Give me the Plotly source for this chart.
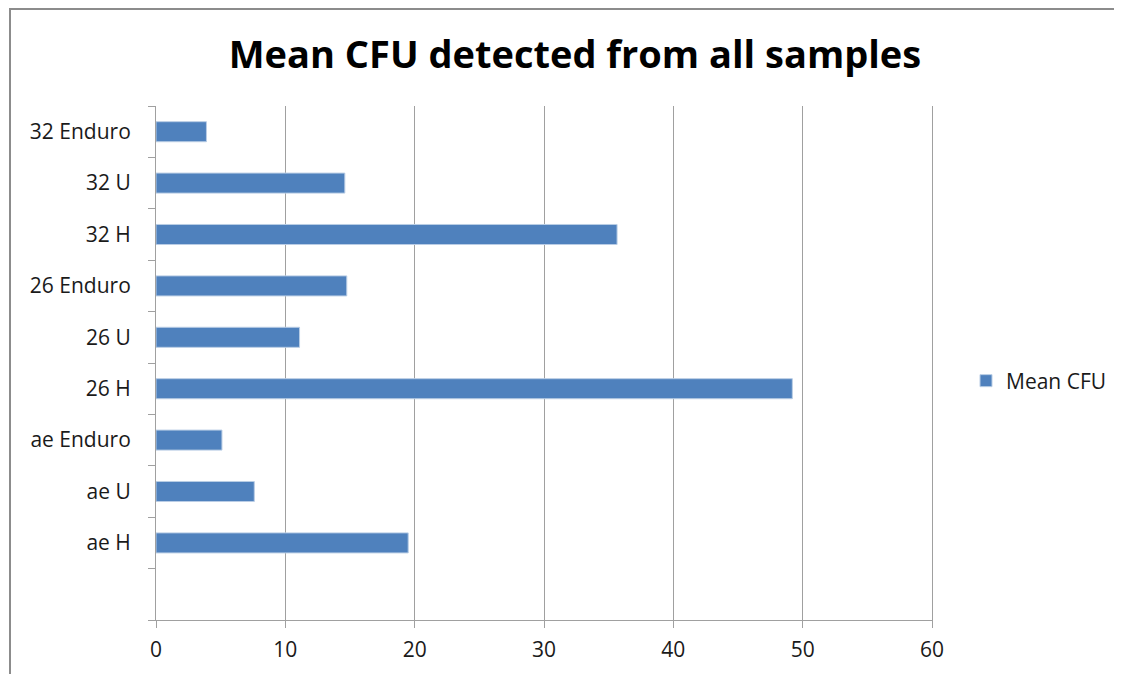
import plotly.graph_objects as go

# Data (bottom to top, as drawn; first slot is an empty category)
categories = ["", "ae H", "ae U", "ae Enduro", "26 H", "26 U", "26 Enduro", "32 H", "32 U", "32 Enduro"]
mean_cfu = [None, 19.5, 7.6, 5.1, 49.2, 11.1, 14.75, 35.65, 14.6, 3.9]
x_ticks = [0, 10, 20, 30, 40, 50, 60]

positions = list(range(len(categories)))
bar_y = [p for p, v in zip(positions, mean_cfu) if v is not None]
bar_x = [v for v in mean_cfu if v is not None]
bar_labels = [c for c, v in zip(categories, mean_cfu) if v is not None]

fig = go.Figure()
fig.add_trace(go.Bar(
    x=bar_x, y=bar_y, orientation="h", name="Mean CFU",
    marker=dict(color="#4F81BD", line=dict(color="#B9CDE5", width=1)),
    width=0.39,
))

GRID = "#A0A0A0"
FONT = "Open Sans"
TXT = "#1a1a1a"

# page body has an 8px margin; compensate so the plot lands where the reference has it
L, T, B, R = 148, 98, 62, 198
PW = 1122 - L - R
PH = 674 - T - B

fig.update_layout(
    width=1122, height=674,
    margin=dict(l=L, r=R, t=T, b=B, autoexpand=False),
    paper_bgcolor="white", plot_bgcolor="white",
    title=dict(text="<b>Mean CFU detected from all samples</b>", x=567 / 1122, xanchor="center",
               xref="container", y=1 - 47 / 674, yanchor="middle", yref="container",
               font=dict(family=FONT, size=38, color="black")),
    showlegend=True,
    legend=dict(x=958 / 1122, y=1 - 373 / 674, xref="container", yref="container",
                xanchor="left", yanchor="middle",
                font=dict(family=FONT, size=21, color=TXT),
                itemwidth=30, bgcolor="rgba(0,0,0,0)"),
)

fig.update_xaxes(
    range=[0, 60], tickvals=x_ticks, ticktext=[str(t) for t in x_ticks],
    showgrid=True, gridcolor=GRID, gridwidth=1,
    showline=True, linecolor=GRID, linewidth=1,
    ticks="outside", ticklen=7, tickcolor=GRID,
    tickfont=dict(family=FONT, size=21, color=TXT),
    ticklabelstandoff=4,
    zeroline=False, fixedrange=True,
)

fig.update_yaxes(
    range=[-0.5, len(categories) - 0.5],
    tickvals=bar_y, ticktext=bar_labels,
    ticks="", showgrid=False, zeroline=False,
    showline=True, linecolor=GRID, linewidth=1, mirror=True,
    tickfont=dict(family=FONT, size=21, color=TXT),
    ticklabelstandoff=20,
    minor=dict(tickvals=[p - 0.5 for p in positions] + [len(categories) - 0.5],
               ticks="outside", ticklen=7, tickcolor=GRID, showgrid=False),
    fixedrange=True,
)

# Outer chart border (extends past right and bottom edges)
fig.add_shape(type="rect", xref="paper", yref="paper",
              x0=(2 - L) / PW, x1=(1140 - L) / PW,
              y0=(PH + T - 700) / PH, y1=(PH + T - 1) / PH,
              line=dict(color="#8C8C8C", width=2), fillcolor="rgba(0,0,0,0)", layer="below")

fig.write_html("out.html")
